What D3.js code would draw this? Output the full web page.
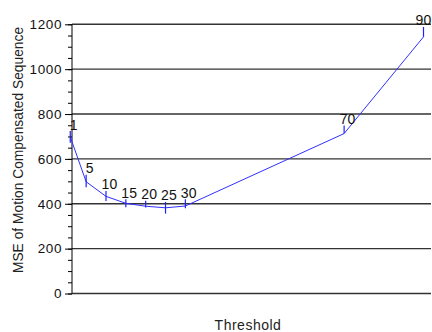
<!DOCTYPE html>
<html>
<head>
<meta charset="utf-8">
<script src="https://cdn.jsdelivr.net/npm/d3@7"></script>
<style>
  html, body { margin: 0; padding: 0; background: #fff; }
  svg { display: block; font-family: "Liberation Sans", Arial, sans-serif; }
</style>
</head>
<body>
<svg id="chart" width="432" height="332"></svg>
<script>
// Threshold settings and the MSE measured for each
const thresholds = [1, 5, 10, 15, 20, 25, 30, 70, 90];
const mse        = [698, 498, 433, 402, 389, 382, 390, 713, 1144];
// Spread of each measurement above and below the value
const errHigh    = [26, 31, 24, 18, 24, 26, 30, 36, 44];
const errLow     = [26, 24, 21, 18, 6, 26, 10, 0, 0];
const yTicks     = [0, 200, 400, 600, 800, 1000, 1200];
const yMinor     = d3.range(0, 1201, 50);

const svg = d3.select("#chart");
const axisX = 72, plotRight = 431;

const x = d3.scaleLinear().domain([0, 90]).range([66.3, 423.5]);
const y = d3.scaleLinear().domain([0, 1200]).range([293.5, 24.3]);

// Horizontal grid
svg.append("g")
  .selectAll("line")
  .data(yTicks)
  .join("line")
  .attr("x1", axisX).attr("x2", plotRight)
  .attr("y1", d => y(d)).attr("y2", d => y(d))
  .attr("stroke", "#333").attr("stroke-width", 1.4);

// Y axis with major and minor ticks
const yAxis = svg.append("g").attr("transform", `translate(${axisX},0)`);
yAxis.call(d3.axisLeft(y).tickValues(yMinor).tickSize(4).tickFormat(""))
  .call(g => g.select(".domain").remove())
  .call(g => g.selectAll("line").attr("stroke", "#000"));
yAxis.append("g")
  .call(d3.axisLeft(y).tickValues(yTicks).tickSize(7).tickPadding(3).tickFormat(d3.format("d")))
  .call(g => g.select(".domain").remove())
  .call(g => g.selectAll("line").attr("stroke", "#000"))
  .call(g => g.selectAll("text")
    .attr("fill", "#111")
    .style("font-family", "'Liberation Sans', Arial, sans-serif")
    .style("font-size", "13.5px")
    .style("letter-spacing", "0.6px"));
svg.append("line")
  .attr("x1", axisX).attr("x2", axisX)
  .attr("y1", y(1200)).attr("y2", y(0))
  .attr("stroke", "#000").attr("stroke-width", 1);

const pts = thresholds.map((t, i) => ({ t, v: mse[i], hi: errHigh[i], lo: errLow[i] }));

// Curve
svg.append("path")
  .datum(pts)
  .attr("fill", "none")
  .attr("stroke", "#3030ff")
  .attr("stroke-width", 1)
  .attr("d", d3.line().x(d => x(d.t)).y(d => y(d.v)));

// Error bars
svg.append("g")
  .selectAll("line")
  .data(pts)
  .join("line")
  .attr("x1", d => x(d.t)).attr("x2", d => x(d.t))
  .attr("y1", d => y(d.v + d.hi)).attr("y2", d => y(d.v - d.lo))
  .attr("stroke", "#2020ff").attr("stroke-width", 1.2);

// Threshold labels above each bar, kept inside the right edge
svg.append("g")
  .selectAll("text")
  .data(pts)
  .join("text")
  .attr("y", d => y(d.v + d.hi) - 1.5)
  .attr("text-anchor", "middle")
  .attr("fill", "#111")
  .style("font-size", "14px")
  .style("letter-spacing", "0.2px")
  .text(d => d.t)
  .attr("x", function (d) {
    const w = this.getComputedTextLength();
    return Math.min(x(d.t) + 3.5, 431.5 - w / 2);
  });

// Axis titles
svg.append("text")
  .attr("transform", "translate(23,150) rotate(-90)")
  .attr("text-anchor", "middle")
  .attr("fill", "#222")
  .style("font-size", "13.8px")
  .text("MSE of Motion Compensated Sequence");

svg.append("text")
  .attr("x", 248).attr("y", 330)
  .attr("text-anchor", "middle")
  .attr("fill", "#222")
  .style("font-size", "14px")
  .style("letter-spacing", "0.5px")
  .text("Threshold");
</script>
</body>
</html>
